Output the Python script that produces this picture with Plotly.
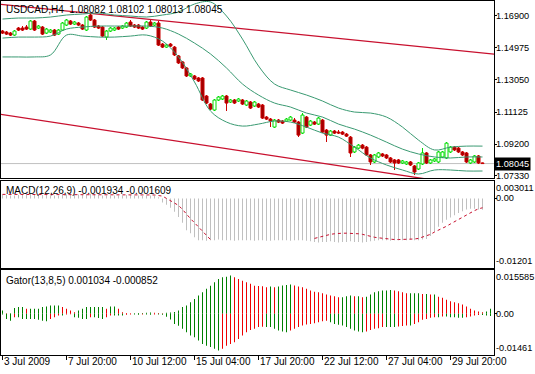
import plotly.graph_objects as go

# ---------------- data ----------------
bar_index = list(range(121))

open_ = [1.1598,1.1592,1.1586,1.1574,1.1616,1.1616,1.1622,1.1610,1.1658,1.1616,
         1.1622,1.1586,1.1592,1.1604,1.1580,1.1604,1.1634,1.1658,1.1640,1.1646,
         1.1634,1.1604,1.1694,1.1664,1.1628,1.1622,1.1562,1.1598,1.1604,1.1622,
         1.1616,1.1622,1.1652,1.1634,1.1634,1.1622,1.1616,1.1652,1.1634,1.1646,
         1.1520,1.1502,1.1520,1.1502,1.1449,1.1413,1.1377,1.1329,1.1329,1.1317,
         1.1317,1.1209,1.1161,1.1125,1.1185,1.1191,1.1209,1.1173,1.1185,1.1179,
         1.1185,1.1155,1.1173,1.1149,1.1161,1.1155,1.1083,1.1071,1.1023,1.1065,
         1.1059,1.1059,1.1065,1.1065,1.1053,1.0987,1.1083,1.1035,1.1053,1.1041,
         1.1065,1.1005,1.0975,1.0999,1.0993,1.0993,1.0981,1.0963,1.0874,1.0897,
         1.0915,1.0903,1.0856,1.0814,1.0844,1.0862,1.0856,1.0838,1.0826,1.0826,
         1.0808,1.0802,1.0814,1.0790,1.0772,1.0802,1.0868,1.0808,1.0820,1.0814,
         1.0844,1.0838,1.0874,1.0903,1.0897,1.0874,1.0868,1.0808,1.0814,1.0850,
         1.08082]
high = [1.1604,1.1598,1.1592,1.1604,1.1622,1.1628,1.1634,1.1664,1.1664,1.1634,
        1.1628,1.1616,1.1610,1.1610,1.1610,1.1652,1.1670,1.1664,1.1658,1.1652,
        1.1640,1.1688,1.1700,1.1670,1.1634,1.1628,1.1604,1.1622,1.1622,1.1628,
        1.1634,1.1652,1.1664,1.1640,1.1640,1.1628,1.1658,1.1670,1.1652,1.1658,
        1.1526,1.1520,1.1526,1.1508,1.1455,1.1419,1.1383,1.1347,1.1335,1.1323,
        1.1323,1.1215,1.1167,1.1191,1.1209,1.1215,1.1215,1.1191,1.1191,1.1197,
        1.1191,1.1185,1.1179,1.1179,1.1167,1.1161,1.1089,1.1077,1.1071,1.1071,
        1.1065,1.1077,1.1089,1.1077,1.1059,1.1107,1.1089,1.1065,1.1059,1.1083,
        1.1071,1.1011,1.1005,1.1005,1.1005,1.0999,1.0987,1.0969,1.0909,1.0921,
        1.0921,1.0909,1.0862,1.0862,1.0874,1.0868,1.0862,1.0844,1.0832,1.0832,
        1.0826,1.0820,1.0820,1.0796,1.0814,1.0897,1.0874,1.0832,1.0838,1.0880,
        1.0880,1.0933,1.0909,1.0909,1.0903,1.0880,1.0874,1.0832,1.0856,1.0856,
        1.08102]
low = [1.1580,1.1574,1.1568,1.1568,1.1598,1.1598,1.1604,1.1604,1.1598,1.1610,
       1.1574,1.1580,1.1586,1.1568,1.1574,1.1598,1.1628,1.1634,1.1634,1.1628,
       1.1604,1.1598,1.1658,1.1616,1.1610,1.1562,1.1544,1.1592,1.1598,1.1604,
       1.1610,1.1616,1.1622,1.1616,1.1610,1.1604,1.1610,1.1622,1.1628,1.1508,
       1.1496,1.1496,1.1502,1.1449,1.1401,1.1371,1.1323,1.1323,1.1305,1.1293,
       1.1179,1.1161,1.1125,1.1119,1.1179,1.1185,1.1119,1.1167,1.1161,1.1173,
       1.1155,1.1149,1.1131,1.1143,1.1137,1.1071,1.1065,1.1023,1.1017,1.1047,
       1.1041,1.1053,1.1059,1.1047,1.0963,1.0981,1.1017,1.1029,1.1035,1.1035,
       1.0987,1.0933,1.0969,1.0981,1.0981,1.0975,1.0963,1.0844,1.0868,1.0891,
       1.0891,1.0850,1.0796,1.0808,1.0838,1.0844,1.0832,1.0808,1.0766,1.0802,
       1.0802,1.0796,1.0790,1.0736,1.0766,1.0796,1.0802,1.0802,1.0814,1.0808,
       1.0838,1.0832,1.0868,1.0880,1.0868,1.0850,1.0808,1.0802,1.0808,1.0802,
       1.08013]
close = [1.1586,1.1580,1.1574,1.1598,1.1604,1.1604,1.1610,1.1658,1.1604,1.1628,
         1.1580,1.1610,1.1604,1.1574,1.1604,1.1646,1.1664,1.1640,1.1652,1.1634,
         1.1610,1.1682,1.1664,1.1622,1.1616,1.1568,1.1598,1.1616,1.1616,1.1610,
         1.1628,1.1646,1.1628,1.1622,1.1616,1.1610,1.1652,1.1628,1.1646,1.1514,
         1.1502,1.1514,1.1508,1.1455,1.1407,1.1377,1.1329,1.1341,1.1311,1.1299,
         1.1185,1.1167,1.1131,1.1185,1.1203,1.1209,1.1167,1.1185,1.1167,1.1191,
         1.1161,1.1179,1.1137,1.1173,1.1143,1.1077,1.1071,1.1059,1.1065,1.1053,
         1.1047,1.1071,1.1083,1.1053,1.0975,1.1095,1.1023,1.1059,1.1041,1.1077,
         1.0993,1.0975,1.0999,1.0987,1.0987,1.0981,1.0969,1.0868,1.0903,1.0915,
         1.0897,1.0856,1.0814,1.0856,1.0868,1.0850,1.0838,1.0814,1.0808,1.0808,
         1.0820,1.0814,1.0796,1.0754,1.0808,1.0868,1.0808,1.0826,1.0832,1.0874,
         1.0874,1.0927,1.0903,1.0886,1.0874,1.0856,1.0814,1.0826,1.0850,1.0808,
         1.08045]

band_index = list(range(0, 121, 4))
bb_upper = [1.1670,1.1676,1.1676,1.1682,1.1694,1.1700,1.1706,1.1694,1.1688,1.1682,
            1.1694,1.1712,1.1760,1.1772,1.1688,1.1550,1.1389,1.1281,1.1245,1.1215,
            1.1179,1.1137,1.1113,1.1107,1.1083,1.1023,1.0945,1.0886,1.0903,1.0909,
            1.0909]
bb_middle = [1.1556,1.1562,1.1562,1.1568,1.1610,1.1622,1.1628,1.1628,1.1628,1.1628,
             1.1616,1.1580,1.1526,1.1461,1.1377,1.1281,1.1215,1.1167,1.1143,1.1107,
             1.1083,1.1041,1.1011,1.0975,1.0933,1.0891,1.0862,1.0844,1.0838,1.0844,
             1.0844]
bb_lower = [1.1443,1.1443,1.1443,1.1455,1.1574,1.1568,1.1562,1.1562,1.1568,1.1574,
            1.1538,1.1443,1.1293,1.1119,1.1053,1.1029,1.1041,1.1059,1.1053,1.1023,
            1.0987,1.0963,1.0903,1.0838,1.0796,1.0766,1.0742,1.0766,1.0766,1.0760,
            1.0760]

upper_trend_index = [-1, 124]
upper_trend_price = [1.17595, 1.14577]
lower_trend_index = [-1, 124]
lower_trend_price = [1.11014, 1.06464]

macd_main = ([0.0007,0.0006,0.0005,0.0005,0.0006,0.0007,0.0007,0.0008,0.0007,0.0007,
              0.0006,0.0006,0.0005,0.0005,0.0005,0.0006,0.0007,0.0007,0.0007,0.0007,
              0.0006,0.0007,0.0008,0.0007,0.0006,0.0005,0.0005,0.0005,0.0005,0.0005,
              0.0005,0.0006,0.0006,0.0005,0.0005,0.0004,0.0005,0.0005,0.0005]
             + [0.0002,-0.0007,-0.0011,-0.0016,-0.0023,-0.0032,-0.0042,-0.0055,-0.0060,-0.0067,-0.0072]
             + [-0.0072,-0.0073,-0.0072,-0.0072,-0.0071,-0.0072,-0.0072,-0.0072,-0.0073,-0.0072,
                -0.0072,-0.0072,-0.0072,-0.0073,-0.0072,-0.0072,-0.0073,-0.0073,-0.0072,-0.0072,
                -0.0072,-0.0072,-0.0073,-0.0072,-0.0072,-0.0072,-0.0073,-0.0074]
             + [-0.0075,-0.0076,-0.0075,-0.0075,-0.0074,-0.0075,-0.0076,-0.0075,-0.0075,-0.0074,
                -0.0075,-0.0075,-0.0076,-0.0075,-0.0074,-0.0073]
             + [-0.0072,-0.0072,-0.0072,-0.0073,-0.0072,-0.0072,-0.0072,-0.0072,-0.0071,-0.0072,
                -0.0072,-0.0071,-0.0070]
             + [-0.0065,-0.0057,-0.0049,-0.0042,-0.0037,-0.0033,-0.0029,-0.0025,-0.0022,-0.0019,
                -0.0018,-0.0018,-0.0019,-0.001934])
macd_signal = ([0.0007] * 21 + [0.0006] * 18
               + [0.0005,0.0004,0.0000,-0.0004,-0.0007,-0.0012,-0.0019,-0.0028,-0.0035,-0.0042,
                  -0.0049,-0.0057,-0.0064,-0.0071]
               + [None] * 25
               + [-0.0069,-0.0067,-0.0065,-0.0063,-0.0062,-0.0061,-0.0060,-0.0060,-0.0060,-0.0060,
                  -0.0060,-0.0061,-0.0062,-0.0064,-0.0065,-0.0067,-0.0068,-0.0069,-0.0070,-0.0071,
                  -0.0071,-0.0071,-0.0071,-0.0071,-0.0071,-0.0070,-0.0069,-0.0067,-0.0065]
               + [-0.0062,-0.0058,-0.0055,-0.0051,-0.0048,-0.0044,-0.0040,-0.0036,-0.0032,-0.0028,
                  -0.0024,-0.0021,-0.0018,-0.001609])

gator_index = list(range(123))
gator_upper = ([0.0012,0.0002,0.0002,0.0021,0.0024,0.0024,0.0018,0.0018,0.0018,0.0018,
                0.0024,0.0026,0.0030,0.0030,0.0030,0.0024,0.0018,0.0012,0.0006,0.0012,
                0.0018,0.0024,0.0024,0.0024,0.0024,0.0024,0.0018,0.0026,0.0026,0.0018,
                0.0006,0.0003,0.0002,0.0002,0.0003,0.0003,0.0004,0.0005,0.0004,0.0003,
                0.0002,0.0004,0.0005]
               + [0.0007,0.0012,0.0024,0.0030,0.0041,0.0053,0.0065,0.0077,0.0089,0.0100,
                  0.0112,0.0124,0.0130,0.0132,0.0136,0.0130,0.0124,0.0118,0.0112,0.0107,
                  0.0100,0.0099,0.0098]
               + [0.0095,0.0097,0.0095,0.0097,0.0101,0.0103,0.0104,0.0101,0.0097,0.0095,
                  0.0089,0.0083,0.0079,0.0077,0.0073,0.0069,0.0065,0.0063,0.0059,0.0059,
                  0.0063,0.0065,0.0063,0.0063,0.0059,0.0061,0.0069,0.0077,0.0080,0.0083,
                  0.0083,0.0085,0.0083,0.0080,0.0077,0.0073,0.0073,0.0073,0.0073,0.0071,
                  0.0071,0.0069,0.0069,0.0061,0.0057,0.0050,0.0045,0.0041,0.0038,0.0033,
                  0.0026,0.0018,0.0012,0.0008,0.0006,0.0008,0.0018])
gator_lower = ([-0.0002,-0.0018,-0.0024,-0.0012,-0.0012,-0.0018,-0.0018,-0.0018,-0.0018,-0.0021,
                -0.0024,-0.0026,-0.0018,-0.0012,-0.0006,-0.0006,-0.0002,-0.0001,-0.0012,-0.0014,
                -0.0018,-0.0018,-0.0012,-0.0012,-0.0015,-0.0018,-0.0012,-0.0006,-0.0006,-0.0006,
                -0.0006,-0.0003,-0.0002,-0.0002,-0.0003,-0.0002,-0.0002,-0.0003,-0.0002,-0.0002,
                -0.0003,-0.0010,-0.0020]
               + [-0.0036,-0.0042,-0.0053,-0.0065,-0.0077,-0.0083,-0.0095,-0.0107,-0.0113,-0.0118,
                  -0.0124,-0.0130,-0.0124,-0.0113,-0.0107,-0.0101,-0.0089,-0.0077,-0.0065,-0.0057,
                  -0.0053,-0.0047,-0.0046]
               + [-0.0047,-0.0047,-0.0053,-0.0059,-0.0063,-0.0065,-0.0059,-0.0053,-0.0047,-0.0041,
                  -0.0038,-0.0036,-0.0033,-0.0030,-0.0026,-0.0024,-0.0030,-0.0036,-0.0039,-0.0041,
                  -0.0047,-0.0053,-0.0059,-0.0063,-0.0065,-0.0063,-0.0057,-0.0053,-0.0051,-0.0047,
                  -0.0047,-0.0047,-0.0047,-0.0045,-0.0043,-0.0041,-0.0041,-0.0036,-0.0030,-0.0021,
                  -0.0018,-0.0014,-0.0012,-0.0012,-0.0009,-0.0009,-0.0012,-0.0012,-0.0014,-0.0014,
                  -0.0012,-0.0009,-0.0006,-0.0004,-0.0004,-0.0006,-0.0008])

time_tick_index = [0, 16, 32, 48, 64, 80, 96, 112]
time_tick_labels = ["3 Jul 2009", "7 Jul 20:00", "10 Jul 12:00", "15 Jul 04:00",
                    "17 Jul 20:00", "22 Jul 12:00", "27 Jul 04:00", "29 Jul 20:00"]
price_ticks = [1.16900, 1.14975, 1.13050, 1.11125, 1.09200, 1.07330]
price_range = [1.07181, 1.17780]
macd_range = [-0.01201, 0.003011]
gator_range = [-0.01461, 0.015585]

main_title = "USDCAD,H4\u00a0\u00a01.08082 1.08102 1.08013 1.08045"
macd_title = "MACD(12,26,9) -0.001934 -0.001609"
gator_title = "Gator(13,8,5) 0.001034 -0.000852"

# ---------------- styles ----------------
FONT = "Liberation Sans, Arial, sans-serif"
FS = 10
FS_AX = 9.2
BULL_LINE = "#00dd00"
BULL_FILL = "#ffffff"
BEAR_LINE = "#cc0000"
BEAR_FILL = "#a00000"
BAND = "#3a9a72"
TREND = "#c8102e"
G_GREEN = "#008000"
G_RED = "#ee0000"

fig = go.Figure()

# trend lines
fig.add_trace(go.Scatter(x=upper_trend_index, y=upper_trend_price, mode="lines",
                         line=dict(color=TREND, width=1.3), xaxis="x", yaxis="y"))
fig.add_trace(go.Scatter(x=lower_trend_index, y=lower_trend_price, mode="lines",
                         line=dict(color=TREND, width=1.3), xaxis="x", yaxis="y"))

# bollinger bands
for band in (bb_upper, bb_middle, bb_lower):
    fig.add_trace(go.Scatter(x=band_index, y=band, mode="lines", line_shape="spline",
                             line=dict(color=BAND, width=1), xaxis="x", yaxis="y"))

# candles
bull = [c >= o for o, c in zip(open_, close)]
fig.add_trace(go.Bar(x=bar_index, y=[h - l for h, l in zip(high, low)], base=low, width=0.25,
                     marker=dict(color=[BULL_LINE if b else BEAR_LINE for b in bull], line_width=0),
                     xaxis="x", yaxis="y"))
fig.add_trace(go.Bar(x=bar_index,
                     y=[max(abs(c - o), 0.00003) for o, c in zip(open_, close)],
                     base=[min(o, c) for o, c in zip(open_, close)], width=0.75,
                     marker=dict(color=[BULL_FILL if b else BEAR_FILL for b in bull],
                                 line=dict(color=[BULL_LINE if b else BEAR_LINE for b in bull], width=1)),
                     xaxis="x", yaxis="y"))

# MACD
fig.add_trace(go.Bar(x=bar_index, y=macd_main, width=0.25, marker=dict(color="#c0c0c0", line_width=0),
                     xaxis="x2", yaxis="y2"))
fig.add_trace(go.Scatter(x=bar_index, y=macd_signal, mode="lines", connectgaps=False,
                         line=dict(color=TREND, width=1, dash="dot"), xaxis="x2", yaxis="y2"))

# Gator
up_col = [G_GREEN if i == 0 or gator_upper[i] >= gator_upper[i - 1] else G_RED for i in range(len(gator_upper))]
lo_col = [G_GREEN if i == 0 or abs(gator_lower[i]) >= abs(gator_lower[i - 1]) else G_RED for i in range(len(gator_lower))]
fig.add_trace(go.Bar(x=gator_index, y=gator_upper, width=0.25, marker=dict(color=up_col, line_width=0),
                     xaxis="x3", yaxis="y3"))
fig.add_trace(go.Bar(x=gator_index, y=gator_lower, width=0.25, marker=dict(color=lo_col, line_width=0),
                     xaxis="x3", yaxis="y3"))

W, H = 535, 374
ML, MR, MT, MB = 1, 41, 1, 19
ph = H - MT - MB
def frac(py):
    return (H - MB - py) / ph

xr = [-0.375, -0.375 + (W - ML - MR) / 4.0]
axis_common = dict(showline=True, mirror=True, linecolor="black", linewidth=1,
                   showgrid=False, zeroline=False, fixedrange=True)

fig.update_layout(
    width=W, height=H, margin=dict(l=ML, r=MR, t=MT, b=MB, pad=0),
    paper_bgcolor="white", plot_bgcolor="white", showlegend=False,
    barmode="overlay", hovermode=False,
    font=dict(family=FONT, size=FS, color="black"),
    xaxis=dict(domain=[0, 1], range=xr, anchor="y", showticklabels=False, ticks="", **axis_common),
    xaxis2=dict(domain=[0, 1], range=xr, anchor="y2", matches="x", showticklabels=False, ticks="", **axis_common),
    xaxis3=dict(domain=[0, 1], range=xr, anchor="y3", matches="x", showticklabels=False,
                ticks="outside", ticklen=4, tickcolor="black", tickvals=time_tick_index, **axis_common),
    yaxis=dict(domain=[frac(178), 1], range=price_range, anchor="x", side="right",
               tickvals=price_ticks, showticklabels=False,
               ticks="outside", ticklen=2, tickcolor="black", **axis_common),
    yaxis2=dict(domain=[frac(268), frac(181)], range=macd_range, anchor="x2", side="right",
                tickvals=[0], showticklabels=False, ticks="outside", ticklen=2, tickcolor="black", **axis_common),
    yaxis3=dict(domain=[frac(355), frac(270)], range=gator_range, anchor="x3", side="right",
                tickvals=[0], showticklabels=False, ticks="outside", ticklen=2, tickcolor="black", **axis_common),
)

# bid line
fig.add_shape(type="line", xref="x domain", x0=0, x1=1, yref="y", y0=close[-1], y1=close[-1],
              line=dict(color="#c0c0c0", width=1), layer="below")

ann = []
ann.append(dict(text=main_title, xref="paper", x=0, xanchor="left", xshift=3,
                yref="y domain", y=1, yanchor="top", yshift=-1, showarrow=False))
ann.append(dict(text=macd_title, xref="paper", x=0, xanchor="left", xshift=3,
                yref="y2 domain", y=1, yanchor="top", yshift=-2, showarrow=False))
ann.append(dict(text=gator_title, xref="paper", x=0, xanchor="left", xshift=3,
                yref="y3 domain", y=1, yanchor="top", yshift=-3, showarrow=False))

axis_font = dict(family=FONT, size=FS_AX, color="black")
# price scale labels
for v in price_ticks:
    ann.append(dict(text=f"{v:.5f}", xref="paper", x=1, xanchor="left", xshift=0,
                    yref="y", y=v, yanchor="middle", showarrow=False, font=axis_font))
# sub window scale labels
for yref, yax, lo, hi in (("y2 domain", "y2", macd_range[0], macd_range[1]),
                          ("y3 domain", "y3", gator_range[0], gator_range[1])):
    ann.append(dict(text=f"{hi:g}", xref="paper", x=1, xanchor="left", xshift=0,
                    yref=yref, y=1, yanchor="top", showarrow=False, font=axis_font))
    ann.append(dict(text="0.00", xref="paper", x=1, xanchor="left", xshift=0,
                    yref=yax, y=0, yanchor="middle", showarrow=False, font=axis_font))
    ann.append(dict(text=f"{lo:g}", xref="paper", x=1, xanchor="left", xshift=0,
                    yref=yref, y=0, yanchor="bottom", showarrow=False, font=axis_font))
# current price box
ann.append(dict(text=f"{close[-1]:.5f}", xref="paper", x=1, xanchor="left", xshift=0,
                yref="y", y=close[-1], yanchor="middle", showarrow=False,
                bgcolor="black", font=dict(family=FONT, size=FS_AX, color="white"), borderpad=1))
# time labels
for idx, lab in zip(time_tick_index, time_tick_labels):
    ann.append(dict(text=lab, xref="x3", x=idx, xanchor="left", xshift=-1,
                    yref="paper", y=0, yanchor="top", yshift=1, showarrow=False))
fig.update_layout(annotations=ann)

fig.write_html("out.html", config={"displayModeBar": False, "staticPlot": True},
               post_script="document.body.style.margin='0px';document.body.style.overflow='hidden';")
